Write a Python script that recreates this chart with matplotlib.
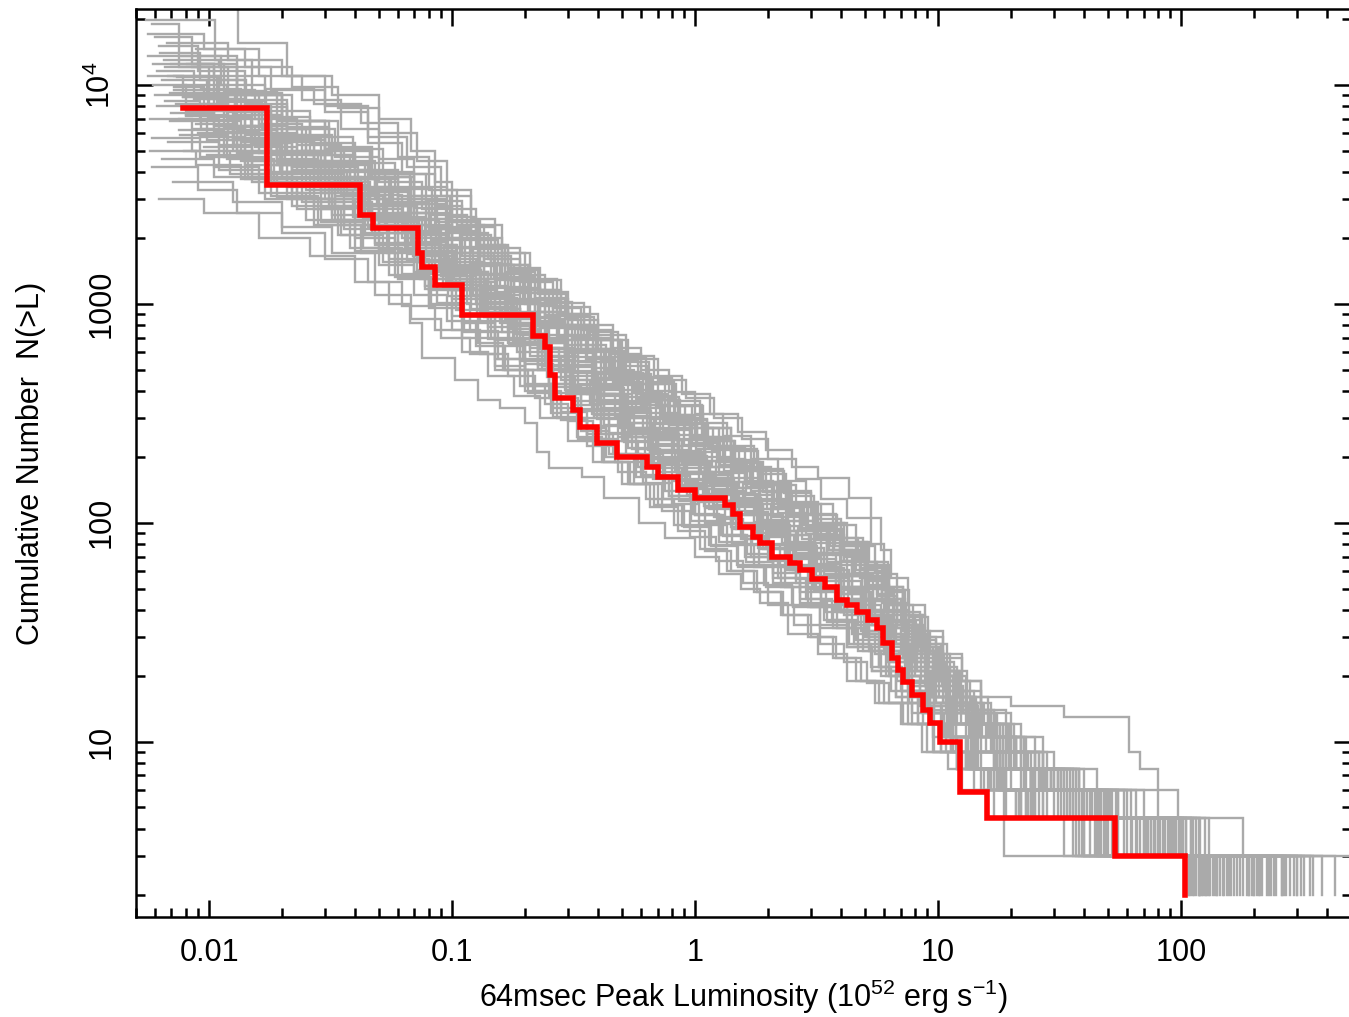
import matplotlib
matplotlib.use("Agg")
import matplotlib.pyplot as plt
from matplotlib.ticker import FixedLocator, FixedFormatter, LogLocator, NullFormatter

plt.rcParams['font.family'] = ['Liberation Sans', 'DejaVu Sans']
plt.rcParams['mathtext.fontset'] = 'custom'
plt.rcParams['mathtext.rm'] = 'Liberation Sans'
plt.rcParams['mathtext.default'] = 'regular'

# observed cumulative distribution (red), corners of the staircase: (L, N(>L))
obs_L = [0.0078, 0.0173, 0.0417, 0.0472, 0.0723, 0.0751, 0.085, 0.110, 0.215, 0.241,
         0.253, 0.265, 0.314, 0.336, 0.395, 0.477, 0.634, 0.704, 0.850, 1.0,
         1.33, 1.43, 1.53, 1.73, 1.85, 2.07, 2.46, 2.70, 3.03, 3.43,
         3.84, 4.22, 4.64, 5.15, 5.61, 5.94, 6.47, 6.85, 7.18, 7.82,
         8.68, 9.27, 10.2, 12.3, 15.9, 53.5, 104.0]
obs_N = [7800, 3500, 2550, 2220, 1710, 1470, 1220, 890, 715, 636,
         473, 372, 328, 274, 231, 200, 180, 162, 141, 130,
         121, 109, 96, 86, 81, 70, 65.5, 61, 55, 51,
         44.4, 42, 39, 36, 33, 28.2, 24.1, 21.3, 18.7, 16.3,
         14, 12.2, 10, 5.9, 4.5, 3, 2]

# simulated realisations (grey), each a list of staircase corners (L, N)
c01 = [(0.0085, 9000), (0.013, 6200), (0.019, 4600), (0.028, 3500), (0.045, 2600), (0.065, 1900), (0.09, 1450), (0.13, 1050), (0.17, 850), (0.22, 660), (0.29, 520), (0.38, 420), (0.5, 330), (0.65, 260), (0.85, 205), (1.1, 165), (1.4, 135), (1.8, 108), (2.3, 88), (3.0, 68), (3.8, 54), (4.8, 42), (5.8, 33), (7.0, 25), (8.5, 19), (10.5, 15), (13, 12), (17, 9), (23, 7.5), (32, 6), (45, 4.5), (85, 3), (160, 2)]
c02 = [(0.0062, 15000), (0.009, 11500), (0.014, 8500), (0.021, 6300), (0.033, 4700), (0.05, 3600), (0.075, 2700), (0.1, 2100), (0.14, 1600), (0.19, 1250), (0.26, 960), (0.34, 760), (0.45, 590), (0.6, 460), (0.8, 360), (1.05, 285), (1.35, 225), (1.75, 175), (2.3, 140), (3.0, 110), (3.8, 85), (4.7, 66), (5.6, 50), (6.6, 38), (8.0, 29), (9.8, 22), (12, 17), (15, 13.5), (20, 10.5), (27, 7.5), (38, 6), (60, 4.5), (105, 3), (260, 2)]
c03 = [(0.0095, 5200), (0.015, 3900), (0.024, 2900), (0.036, 2200), (0.055, 1600), (0.08, 1150), (0.11, 820), (0.15, 640), (0.2, 500), (0.26, 390), (0.34, 300), (0.44, 235), (0.58, 180), (0.75, 140), (0.98, 110), (1.25, 88), (1.6, 70), (2.1, 56), (2.7, 45), (3.4, 36), (4.3, 28), (5.3, 22), (6.4, 17), (7.8, 13.5), (9.5, 10.5), (12, 7.5), (16, 6), (24, 4.5), (50, 3), (130, 2)]
c04 = [(0.0058, 19000), (0.0075, 12000), (0.012, 8000), (0.018, 5800), (0.03, 4100), (0.048, 3000), (0.07, 2300), (0.1, 1700), (0.135, 1300), (0.18, 1000), (0.24, 800), (0.32, 620), (0.42, 490), (0.55, 390), (0.72, 310), (0.95, 245), (1.25, 195), (1.6, 155), (2.1, 122), (2.7, 95), (3.5, 75), (4.4, 58), (5.4, 45), (6.5, 34), (7.8, 26), (9.5, 20), (11.5, 15), (14.5, 12), (19, 9), (26, 7.5), (35, 6), (50, 4.5), (95, 3), (200, 2)]
c05 = [(0.0075, 7000), (0.011, 5300), (0.017, 4000), (0.026, 3000), (0.04, 2300), (0.06, 1750), (0.085, 1300), (0.12, 950), (0.16, 740), (0.21, 580), (0.28, 450), (0.37, 350), (0.49, 270), (0.64, 215), (0.83, 170), (1.08, 135), (1.4, 108), (1.8, 86), (2.35, 68), (3.0, 54), (3.8, 43), (4.7, 34), (5.7, 26), (6.9, 20), (8.4, 15), (10.3, 12), (13, 9), (17, 7.5), (22, 6), (32, 4.5), (70, 3), (120, 2)]
c06 = [(0.007, 12500), (0.0105, 9000), (0.016, 6600), (0.024, 5000), (0.036, 3800), (0.055, 2900), (0.08, 2200), (0.11, 1650), (0.15, 1280), (0.2, 1000), (0.27, 780), (0.36, 610), (0.48, 480), (0.63, 380), (0.82, 300), (1.07, 240), (1.4, 190), (1.85, 150), (2.4, 120), (3.1, 98), (4.0, 80), (5.0, 62), (5.9, 45), (6.8, 33), (8.0, 25), (9.7, 19), (12, 14), (15, 10.5), (20, 7.5), (29, 6), (42, 4.5), (80, 3), (140, 2)]
c07 = [(0.0105, 4200), (0.016, 3200), (0.025, 2400), (0.038, 1800), (0.055, 1350), (0.08, 960), (0.11, 700), (0.15, 520), (0.2, 400), (0.27, 300), (0.36, 225), (0.48, 170), (0.63, 128), (0.82, 98), (1.05, 76), (1.35, 60), (1.75, 48), (2.25, 38), (2.9, 30), (3.7, 24), (4.6, 19), (5.7, 15), (7.0, 12), (8.6, 9), (11, 7.5), (14, 6), (19, 4.5), (40, 3), (110, 2)]
c08 = [(0.0068, 11000), (0.01, 8000), (0.015, 6000), (0.023, 4400), (0.035, 3300), (0.053, 2500), (0.077, 1850), (0.105, 1400), (0.14, 1100), (0.19, 860), (0.25, 680), (0.33, 540), (0.43, 425), (0.57, 335), (0.74, 265), (0.96, 210), (1.25, 168), (1.62, 134), (2.1, 106), (2.75, 84), (3.5, 66), (4.4, 51), (5.4, 39), (6.5, 30), (7.9, 23), (9.6, 17), (11.8, 13.5), (14.8, 10.5), (19, 7.5), (26, 6), (40, 4.5), (75, 3), (300, 2)]
c09 = [(0.008, 8200), (0.012, 6000), (0.019, 4400), (0.029, 3300), (0.044, 2450), (0.066, 1850), (0.093, 1380), (0.13, 1020), (0.175, 790), (0.23, 620), (0.3, 490), (0.4, 385), (0.52, 300), (0.68, 238), (0.88, 188), (1.15, 150), (1.48, 120), (1.9, 96), (2.45, 76), (3.15, 60), (4.0, 47), (5.0, 37), (6.1, 28), (7.4, 21), (9.0, 16), (11, 12), (14, 9), (18, 7.5), (25, 6), (37, 4.5), (65, 3), (180, 2)]
c10 = [(0.0056, 13500), (0.013, 9300), (0.019, 6800), (0.03, 5100), (0.047, 3800), (0.07, 2750), (0.1, 2000), (0.135, 1500), (0.18, 1150), (0.24, 890), (0.31, 700), (0.41, 550), (0.54, 430), (0.7, 340), (0.91, 270), (1.18, 215), (1.52, 172), (1.95, 138), (2.5, 110), (3.2, 88), (4.1, 70), (5.1, 55), (6.1, 42), (7.2, 32), (8.6, 24), (10.4, 18), (12.7, 13.5), (16, 10.5), (21, 9), (28, 7.5), (40, 6), (62, 4.5), (110, 3), (600, 2)]
c11 = [(0.009, 6000), (0.0135, 4500), (0.021, 3400), (0.032, 2550), (0.048, 1900), (0.072, 1420), (0.1, 1050), (0.14, 780), (0.185, 600), (0.245, 465), (0.32, 360), (0.42, 280), (0.55, 218), (0.72, 170), (0.93, 134), (1.2, 106), (1.55, 84), (2.0, 67), (2.6, 53), (3.3, 42), (4.2, 33), (5.2, 26), (6.3, 20), (7.6, 15), (9.3, 12), (11.5, 9), (15, 7.5), (20, 6), (28, 4.5), (60, 3), (125, 2)]
c12 = [(0.0072, 9800), (0.0095, 7200), (0.015, 5400), (0.022, 4200), (0.034, 3200), (0.05, 2350), (0.072, 1750), (0.1, 1300), (0.14, 1000), (0.185, 790), (0.245, 620), (0.32, 490), (0.42, 385), (0.55, 305), (0.72, 242), (0.94, 192), (1.22, 153), (1.58, 122), (2.05, 97), (2.65, 77), (3.4, 61), (4.3, 48), (5.3, 37), (6.4, 28), (7.7, 21), (9.4, 16), (11.5, 12), (14.5, 9), (19, 7.5), (27, 6), (38, 4.5), (90, 3), (150, 2)]
c13 = [(0.0055, 19800), (0.0106, 13000), (0.015, 9000), (0.022, 6800), (0.034, 5100), (0.052, 3900), (0.078, 2950), (0.11, 2250), (0.15, 1700), (0.2, 1300), (0.27, 1010), (0.35, 800), (0.46, 630), (0.6, 500), (0.78, 395), (1.0, 315), (1.3, 250), (1.7, 195), (2.2, 155), (2.85, 122), (3.7, 98), (4.6, 78), (5.5, 60), (6.3, 45), (7.3, 34), (8.7, 26), (10.5, 20), (13, 15), (16.5, 12), (22, 9), (30, 7.5), (45, 6), (70, 4.5), (120, 3), (230, 2)]
c14 = [(0.0098, 4800), (0.015, 3600), (0.023, 2700), (0.035, 2050), (0.052, 1550), (0.077, 1170), (0.11, 880), (0.15, 680), (0.2, 530), (0.26, 415), (0.34, 325), (0.44, 258), (0.57, 205), (0.74, 163), (0.95, 130), (1.23, 104), (1.58, 84), (2.02, 68), (2.6, 55), (3.3, 44), (4.2, 35), (5.2, 27), (6.3, 21), (7.6, 16), (9.2, 12), (11.3, 9), (14.5, 7.5), (19, 6), (26, 4.5), (48, 3), (115, 2)]
c15 = [(0.0064, 10500), (0.0098, 8600), (0.014, 6500), (0.021, 4900), (0.032, 3700), (0.049, 2800), (0.072, 2100), (0.1, 1550), (0.135, 1180), (0.18, 920), (0.24, 720), (0.31, 570), (0.41, 450), (0.53, 355), (0.69, 285), (0.9, 226), (1.17, 180), (1.52, 144), (1.97, 115), (2.55, 92), (3.3, 73), (4.2, 57), (5.2, 44), (6.2, 34), (7.4, 26), (8.9, 20), (10.8, 15), (13.3, 12), (17, 9), (23, 7.5), (31, 6), (47, 4.5), (100, 3), (190, 2)]
c16 = [(0.0078, 8800), (0.0115, 6400), (0.018, 4800), (0.027, 3600), (0.041, 2700), (0.062, 2000), (0.088, 1480), (0.122, 1100), (0.165, 850), (0.22, 660), (0.29, 515), (0.38, 405), (0.5, 318), (0.65, 250), (0.85, 198), (1.1, 158), (1.42, 126), (1.83, 101), (2.37, 80), (3.05, 63), (3.9, 50), (4.9, 39), (6.0, 30), (7.3, 23), (8.9, 17), (10.9, 13.5), (13.5, 10.5), (17.5, 7.5), (24, 6), (34, 4.5), (110, 3), (430, 2)]
c17 = [(0.006, 16500), (0.0085, 12500), (0.013, 9200), (0.02, 6800), (0.03, 5100), (0.046, 3800), (0.068, 2850), (0.095, 2150), (0.13, 1650), (0.175, 1270), (0.23, 980), (0.3, 770), (0.39, 605), (0.51, 475), (0.66, 375), (0.86, 298), (1.12, 237), (1.45, 188), (1.88, 150), (2.43, 119), (3.15, 94), (4.05, 74), (5.1, 57), (6.2, 43), (7.4, 33), (8.8, 25), (10.6, 19), (13, 14), (16.5, 10.5), (22, 7.5), (30, 6), (55, 4.5), (100, 3), (270, 2)]
c18 = [(0.0088, 6600), (0.013, 5000), (0.02, 3750), (0.031, 2800), (0.047, 2100), (0.07, 1570), (0.098, 1160), (0.135, 870), (0.18, 670), (0.24, 520), (0.315, 405), (0.41, 315), (0.54, 245), (0.7, 192), (0.91, 152), (1.18, 120), (1.52, 96), (1.96, 77), (2.53, 61), (3.25, 48), (4.1, 38), (5.1, 30), (6.2, 23), (7.5, 17), (9.1, 13.5), (11.2, 10.5), (14, 7.5), (18.5, 6), (25, 4.5), (55, 3), (140, 2)]
c19 = [(0.0066, 12000), (0.01, 9500), (0.0155, 7000), (0.023, 5300), (0.035, 4000), (0.053, 3000), (0.078, 2250), (0.108, 1700), (0.145, 1300), (0.195, 1010), (0.26, 790), (0.34, 620), (0.45, 490), (0.59, 385), (0.77, 305), (1.0, 243), (1.3, 193), (1.68, 154), (2.17, 123), (2.8, 98), (3.6, 78), (4.6, 61), (5.6, 47), (6.6, 36), (7.9, 27), (9.5, 21), (11.6, 16), (14.3, 12), (18.5, 9), (25, 7.5), (38, 6), (80, 4.5), (130, 3), (210, 2)]
c20 = [(0.0082, 7600), (0.0125, 5700), (0.019, 4300), (0.029, 3200), (0.043, 2400), (0.064, 1800), (0.09, 1340), (0.125, 1000), (0.17, 770), (0.225, 600), (0.295, 470), (0.385, 365), (0.5, 285), (0.66, 225), (0.86, 178), (1.12, 142), (1.45, 113), (1.87, 90), (2.42, 71), (3.1, 57), (3.95, 45), (4.95, 35), (6.0, 27), (7.3, 20), (8.9, 15), (10.9, 12), (13.8, 9), (18, 7.5), (24, 6), (35, 4.5), (75, 3), (105, 2)]
c21 = [(0.0072, 11000), (0.011, 8400), (0.017, 6300), (0.026, 4800), (0.04, 3700), (0.06, 2850), (0.085, 2200), (0.12, 1700), (0.16, 1330), (0.22, 1050), (0.3, 840), (0.4, 680), (0.53, 560), (0.7, 450), (0.92, 370), (1.2, 300), (1.56, 240), (2.0, 195), (2.6, 158), (3.3, 128), (4.2, 105), (5.3, 80), (6.0, 58), (6.8, 42), (7.9, 32), (9.3, 25), (11.2, 19), (13.5, 14), (17, 10.5), (23, 7.5), (33, 6), (50, 4.5), (115, 3), (320, 2)]
c22 = [(0.0092, 5800), (0.014, 4300), (0.022, 3200), (0.033, 2400), (0.05, 1780), (0.074, 1300), (0.104, 940), (0.14, 690), (0.19, 500), (0.25, 370), (0.33, 270), (0.43, 200), (0.56, 150), (0.73, 113), (0.95, 86), (1.22, 67), (1.57, 53), (2.0, 42), (2.55, 34), (3.25, 28), (4.1, 23), (5.1, 18.5), (6.3, 15), (7.8, 12), (9.6, 9), (12, 7.5), (15.5, 6), (21, 4.5), (45, 3), (108, 2)]
c23 = [(0.006, 9000), (0.02, 5000), (0.03, 3700), (0.045, 2800), (0.068, 2050), (0.095, 1500), (0.13, 1120), (0.175, 860), (0.23, 670), (0.3, 525), (0.39, 410), (0.51, 322), (0.66, 255), (0.86, 202), (1.12, 160), (1.45, 127), (1.88, 101), (2.43, 80), (3.13, 63), (4.0, 50), (5.05, 39), (6.2, 30), (7.5, 22), (9.1, 16), (11.2, 12), (14.2, 9), (18.5, 7.5), (24, 6), (36, 4.5), (58, 3), (240, 2)]
c24 = [(0.0078, 10000), (0.0118, 7500), (0.018, 5600), (0.027, 4200), (0.041, 3150), (0.062, 2400), (0.088, 1800), (0.122, 1360), (0.165, 1050), (0.22, 820), (0.29, 645), (0.38, 510), (0.5, 402), (0.65, 318), (0.85, 252), (1.1, 200), (1.43, 160), (1.85, 128), (2.4, 102), (3.1, 81), (3.95, 64), (5.0, 50), (6.1, 39), (7.3, 29), (8.8, 22), (10.6, 17), (13, 13.5), (16.3, 10.5), (21, 7.5), (29, 6), (44, 4.5), (95, 3), (170, 2)]
c25 = [(0.0062, 3000), (0.0095, 2600), (0.016, 2000), (0.026, 1650), (0.04, 1250), (0.055, 1000), (0.067, 820), (0.075, 565), (0.103, 450), (0.128, 365), (0.157, 335), (0.2, 285), (0.223, 211), (0.25, 178), (0.342, 162), (0.42, 130), (0.59, 100), (0.75, 85), (1.0, 70), (1.25, 58), (1.55, 50), (1.85, 43), (2.4, 31), (3.2, 25), (4.2, 19), (5.5, 15), (7.2, 12), (9.0, 9), (12, 7.5), (15, 6), (18.6, 3), (108, 2)]
c26 = [(0.0058, 4200), (0.009, 3300), (0.013, 2600), (0.02, 2100), (0.03, 1600), (0.045, 1250), (0.062, 980), (0.085, 760), (0.11, 600), (0.14, 470), (0.18, 380), (0.23, 300), (0.3, 235), (0.38, 190), (0.5, 150), (0.65, 118), (0.85, 92), (1.1, 74), (1.4, 60), (1.8, 48), (2.3, 38), (3.0, 30), (3.8, 24), (4.8, 19), (6.0, 15), (7.5, 12), (9.5, 9), (12.5, 6), (17, 4.5), (33, 3), (112, 2)]
c27 = [(0.0068, 5500), (0.011, 4100), (0.018, 3100), (0.028, 2300), (0.042, 1700), (0.06, 1300), (0.08, 1000), (0.1, 760), (0.13, 590), (0.17, 470), (0.22, 370), (0.28, 295), (0.36, 235), (0.47, 190), (0.61, 152), (0.8, 122), (1.04, 98), (1.35, 79), (1.75, 63), (2.25, 51), (2.9, 41), (3.7, 33), (4.7, 26), (5.8, 20), (7.1, 15), (8.7, 12), (10.8, 9), (13.5, 7.5), (17, 6), (24, 4.5), (42, 3), (118, 2)]
c28 = [(0.0057, 7000), (0.0085, 5000), (0.014, 3700), (0.022, 2800), (0.034, 2050), (0.05, 1500), (0.07, 1100), (0.095, 830), (0.125, 640), (0.165, 500), (0.215, 400), (0.28, 320), (0.36, 255), (0.46, 205), (0.6, 165), (0.78, 133), (1.0, 108), (1.3, 87), (1.7, 70), (2.2, 56), (2.85, 45), (3.65, 36), (4.6, 29), (5.7, 22), (7.0, 17), (8.6, 13.5), (10.6, 10.5), (13.3, 7.5), (17.5, 6), (25, 4.5), (52, 3), (122, 2)]
c29 = [(0.0075, 6200), (0.0115, 4700), (0.018, 3500), (0.027, 2700), (0.04, 2000), (0.058, 1550), (0.08, 1200), (0.11, 900), (0.145, 700), (0.19, 550), (0.25, 430), (0.32, 345), (0.41, 275), (0.53, 220), (0.68, 178), (0.88, 143), (1.14, 116), (1.47, 94), (1.9, 76), (2.45, 61), (3.15, 49), (4.0, 39), (5.0, 31), (6.2, 24), (7.6, 18.5), (9.3, 14), (11.4, 10.5), (14.3, 7.5), (18.8, 6), (27, 4.5), (62, 3), (135, 2)]
c30 = [(0.0061, 8000), (0.0093, 6300), (0.014, 4900), (0.022, 3700), (0.033, 2800), (0.05, 2100), (0.073, 1550), (0.1, 1150), (0.135, 870), (0.18, 670), (0.235, 520), (0.305, 410), (0.395, 325), (0.51, 260), (0.66, 208), (0.86, 167), (1.12, 134), (1.45, 108), (1.88, 87), (2.42, 70), (3.12, 56), (4.0, 44), (5.0, 34), (6.1, 26), (7.4, 20), (9.0, 15), (11, 12), (13.8, 9), (18, 7.5), (24, 6), (36, 4.5), (68, 3), (155, 2)]
c31 = [(0.0056, 17000), (0.0095, 14500), (0.016, 11000), (0.024, 8500), (0.035, 6300), (0.05, 4600), (0.07, 3400), (0.095, 2500), (0.125, 1850), (0.165, 1400), (0.22, 1060), (0.29, 800), (0.38, 610), (0.5, 470), (0.65, 365), (0.85, 285), (1.1, 225), (1.43, 178), (1.85, 140), (2.4, 110), (3.1, 86), (4.0, 67), (5.0, 51), (6.1, 39), (7.4, 29), (9.0, 22), (11, 16), (14, 12), (18, 9), (24, 7.5), (33, 6), (52, 4.5), (92, 3), (280, 2)]
c32 = [(0.0065, 13000), (0.011, 12000), (0.018, 9500), (0.03, 7500), (0.045, 5400), (0.062, 3900), (0.085, 2800), (0.11, 2050), (0.145, 1500), (0.19, 1120), (0.25, 850), (0.33, 650), (0.43, 500), (0.56, 390), (0.73, 305), (0.95, 240), (1.23, 190), (1.6, 150), (2.07, 118), (2.7, 93), (3.5, 73), (4.5, 57), (5.6, 44), (6.8, 34), (8.2, 26), (10, 20), (12.3, 15), (15.5, 12), (20, 9), (27, 7.5), (37, 6), (58, 4.5), (102, 3), (215, 2)]
c33 = [(0.0085, 12000), (0.013, 9000), (0.02, 6800), (0.031, 5200), (0.047, 4000), (0.07, 3100), (0.098, 2400), (0.13, 1850), (0.17, 1450), (0.23, 1130), (0.3, 900), (0.4, 720), (0.52, 580), (0.68, 470), (0.88, 385), (1.15, 315), (1.5, 260), (1.95, 215), (2.5, 180), (3.2, 160), (4.3, 130), (5.3, 105), (5.8, 75), (6.4, 56), (7.5, 42), (8.8, 32), (10.5, 25), (12.5, 19), (15, 14), (19, 10.5), (25, 7.5), (36, 6), (55, 4.5), (105, 3), (350, 2)]
c34 = [(0.0072, 9500), (0.0105, 7600), (0.016, 5900), (0.025, 4500), (0.038, 3400), (0.057, 2600), (0.082, 1950), (0.113, 1480), (0.153, 1130), (0.205, 870), (0.27, 680), (0.355, 540), (0.46, 430), (0.6, 345), (0.78, 278), (1.02, 225), (1.33, 182), (1.73, 148), (2.25, 120), (2.9, 97), (3.75, 78), (4.8, 62), (6.0, 49), (7.3, 38), (8.8, 30), (10.5, 24), (12.5, 19), (15, 16), (20, 14.5), (33, 13), (61, 9), (68, 7.5), (80, 6), (97, 4.5), (180, 3), (300, 2)]
c35 = [(0.0059, 10000), (0.008, 7200), (0.0125, 5000), (0.02, 4000), (0.037, 3100), (0.053, 2200), (0.07, 1650), (0.1, 1250), (0.15, 950), (0.19, 720), (0.25, 580), (0.33, 430), (0.42, 330), (0.56, 270), (0.7, 215), (0.93, 170), (1.2, 140), (1.6, 112), (2.0, 92), (2.6, 73), (3.4, 58), (4.4, 45), (5.5, 36), (6.7, 28), (8.2, 21), (10.1, 16), (12.4, 12), (15.7, 9), (20.5, 7.5), (28, 6), (43, 4.5), (78, 3), (128, 2)]
c36 = [(0.0069, 6800), (0.0098, 5600), (0.015, 4500), (0.025, 3300), (0.039, 2500), (0.058, 1900), (0.083, 1450), (0.118, 1080), (0.158, 820), (0.21, 630), (0.275, 490), (0.36, 385), (0.47, 305), (0.61, 245), (0.8, 195), (1.04, 157), (1.35, 126), (1.75, 101), (2.27, 81), (2.95, 64), (3.8, 51), (4.8, 40), (5.9, 31), (7.2, 24), (8.8, 18), (10.8, 13.5), (13.4, 10.5), (17, 7.5), (22.5, 6), (30, 4.5), (72, 3), (165, 2)]
c37 = [(0.0057, 5000), (0.0088, 4300), (0.0135, 3700), (0.021, 3000), (0.032, 2400), (0.048, 1850), (0.07, 1400), (0.096, 1080), (0.13, 830), (0.172, 645), (0.225, 505), (0.295, 395), (0.385, 310), (0.5, 245), (0.65, 195), (0.84, 156), (1.09, 125), (1.41, 100), (1.83, 80), (2.37, 64), (3.07, 51), (3.95, 40), (5.0, 31), (6.2, 24), (7.6, 18), (9.3, 13.5), (11.5, 10.5), (14.5, 7.5), (19, 6), (27, 4.5), (47, 3), (190, 2)]
c38 = [(0.0063, 14000), (0.0092, 10500), (0.014, 7900), (0.021, 5900), (0.032, 4500), (0.048, 3400), (0.07, 2600), (0.097, 1980), (0.13, 1520), (0.175, 1180), (0.23, 920), (0.3, 720), (0.39, 570), (0.51, 455), (0.66, 365), (0.86, 293), (1.12, 236), (1.46, 190), (1.9, 154), (2.47, 124), (3.2, 100), (4.1, 80), (5.1, 63), (6.1, 48), (7.2, 36), (8.5, 27), (10.1, 21), (12.2, 16), (15, 12), (19.5, 9), (26, 7.5), (36, 6), (54, 4.5), (125, 3), (245, 2)]
c39 = [(0.008, 7300), (0.012, 5600), (0.018, 4300), (0.027, 3300), (0.041, 2500), (0.06, 1850), (0.085, 1350), (0.115, 1000), (0.15, 740), (0.195, 560), (0.25, 430), (0.32, 330), (0.41, 255), (0.52, 200), (0.67, 158), (0.86, 125), (1.1, 100), (1.42, 80), (1.83, 64), (2.35, 51), (3.0, 41), (3.85, 33), (4.9, 26), (6.1, 20), (7.5, 15), (9.2, 12), (11.3, 9), (14, 7.5), (17.5, 6), (22, 4.5), (39, 3), (145, 2)]
c40 = [(0.0087, 8600), (0.0128, 6500), (0.019, 5000), (0.028, 3800), (0.042, 2850), (0.063, 2150), (0.09, 1600), (0.125, 1200), (0.168, 910), (0.222, 700), (0.29, 545), (0.377, 428), (0.49, 338), (0.635, 268), (0.82, 213), (1.06, 170), (1.37, 136), (1.77, 109), (2.28, 88), (2.95, 71), (3.8, 57), (4.85, 45), (6.0, 35), (7.3, 27), (8.9, 20), (10.8, 15), (13.2, 12), (16.5, 9), (21, 7.5), (28, 6), (41, 4.5), (88, 3), (225, 2)]
c41 = [(0.0064, 4600), (0.0105, 3800), (0.017, 3000), (0.027, 2300), (0.04, 1750), (0.058, 1320), (0.082, 990), (0.112, 740), (0.15, 560), (0.2, 430), (0.26, 335), (0.34, 262), (0.44, 205), (0.57, 162), (0.74, 128), (0.96, 102), (1.25, 82), (1.62, 66), (2.1, 53), (2.7, 43), (3.5, 35), (4.5, 28), (5.7, 22), (7.1, 17), (8.8, 13.5), (10.9, 10.5), (13.6, 7.5), (17.5, 6), (23, 4.5), (44, 3), (138, 2)]
c42 = [(0.0076, 5900), (0.0118, 4600), (0.0185, 3600), (0.029, 2750), (0.044, 2100), (0.065, 1580), (0.092, 1180), (0.127, 880), (0.17, 660), (0.225, 500), (0.295, 385), (0.385, 300), (0.5, 236), (0.65, 187), (0.84, 149), (1.09, 119), (1.41, 96), (1.82, 77), (2.35, 62), (3.03, 50), (3.9, 40), (4.95, 32), (6.15, 25), (7.55, 19), (9.2, 14.5), (11.2, 10.5), (14, 7.5), (18, 6), (24.5, 4.5), (54, 3), (118, 2)]
c43 = [(0.0055, 30000), (0.0131, 15500), (0.021, 11000), (0.03, 8000), (0.045, 5800), (0.065, 4200), (0.09, 3100), (0.12, 2300), (0.16, 1700), (0.21, 1280), (0.28, 970), (0.37, 740), (0.48, 570), (0.63, 440), (0.82, 345), (1.07, 270), (1.4, 212), (1.82, 167), (2.37, 132), (3.08, 104), (4.0, 82), (5.1, 64), (6.3, 49), (7.6, 37), (9.1, 28), (10.9, 21), (13.1, 16), (16, 12), (20.5, 9), (27, 7.5), (38, 6), (65, 4.5), (118, 3), (265, 2)]
c44 = [(0.0067, 15500), (0.012, 13000), (0.02, 11000), (0.032, 9000), (0.05, 7000), (0.068, 5000), (0.085, 3600), (0.1, 2700), (0.125, 2000), (0.16, 1500), (0.21, 1150), (0.28, 880), (0.37, 680), (0.49, 520), (0.64, 400), (0.83, 310), (1.08, 245), (1.4, 192), (1.82, 150), (2.36, 118), (3.06, 92), (3.95, 72), (5.0, 56), (6.1, 42), (7.4, 31), (8.9, 23), (10.8, 17), (13.2, 13.5), (16.5, 10.5), (21, 7.5), (29, 6), (46, 4.5), (86, 3), (310, 2)]
c45 = [(0.0059, 12500), (0.0105, 11000), (0.017, 9600), (0.027, 8200), (0.042, 6700), (0.06, 4700), (0.08, 3300), (0.105, 2300), (0.135, 1600), (0.17, 1150), (0.22, 830), (0.29, 610), (0.38, 460), (0.5, 350), (0.65, 270), (0.85, 210), (1.1, 165), (1.43, 130), (1.86, 103), (2.4, 82), (3.1, 65), (4.0, 51), (5.05, 40), (6.2, 31), (7.5, 24), (9.1, 18), (11.1, 13.5), (13.7, 10.5), (17.5, 7.5), (23, 6), (33, 4.5), (66, 3), (200, 2)]
c46 = [(0.0071, 3600), (0.0125, 2900), (0.02, 2250), (0.032, 1700), (0.048, 1100), (0.068, 850), (0.09, 700), (0.118, 590), (0.15, 500), (0.19, 420), (0.24, 350), (0.3, 290), (0.38, 240), (0.48, 198), (0.61, 162), (0.78, 133), (1.0, 108), (1.28, 88), (1.64, 72), (2.1, 59), (2.7, 48), (3.45, 39), (4.4, 31), (5.5, 25), (6.8, 19), (8.4, 14.5), (10.4, 10.5), (13, 7.5), (16.5, 6), (22, 4.5), (37, 3), (123, 2)]
c47 = [(0.0066, 8400), (0.0092, 6800), (0.0135, 5500), (0.02, 4500), (0.03, 3600), (0.046, 2800), (0.07, 2050), (0.095, 1500), (0.12, 1150), (0.15, 900), (0.19, 700), (0.245, 545), (0.315, 425), (0.41, 335), (0.53, 265), (0.69, 212), (0.9, 170), (1.17, 137), (1.52, 110), (1.97, 88), (2.55, 70), (3.3, 56), (4.25, 44), (5.35, 34), (6.6, 26), (8.0, 20), (9.8, 15), (12, 12), (15, 9), (19.5, 7.5), (26, 6), (39, 4.5), (82, 3), (175, 2)]
c48 = [(0.0074, 10800), (0.0108, 8300), (0.0165, 6300), (0.025, 4800), (0.038, 3700), (0.056, 2850), (0.08, 2200), (0.11, 1700), (0.148, 1310), (0.197, 1010), (0.26, 780), (0.34, 605), (0.44, 470), (0.575, 368), (0.75, 290), (0.97, 230), (1.26, 183), (1.63, 146), (2.12, 117), (2.75, 94), (3.55, 75), (4.55, 59), (5.65, 46), (6.8, 35), (8.1, 26), (9.7, 20), (11.7, 15), (14.3, 12), (18, 9), (23.5, 7.5), (32, 6), (49, 4.5), (98, 3), (205, 2)]
c49 = [(0.0083, 6900), (0.0126, 5300), (0.0195, 4000), (0.03, 3000), (0.045, 2250), (0.066, 1680), (0.094, 1250), (0.13, 920), (0.172, 690), (0.225, 525), (0.29, 405), (0.375, 315), (0.48, 247), (0.62, 195), (0.8, 155), (1.03, 124), (1.33, 99), (1.72, 79), (2.23, 63), (2.9, 50), (3.75, 40), (4.8, 32), (6.0, 25), (7.4, 19), (9.0, 14.5), (11, 10.5), (13.8, 7.5), (17.8, 6), (23.5, 4.5), (46, 3), (132, 2)]
c50 = [(0.0096, 7800), (0.014, 5900), (0.0205, 4500), (0.031, 3400), (0.046, 2550), (0.068, 1920), (0.096, 1430), (0.132, 1070), (0.176, 815), (0.232, 630), (0.302, 492), (0.39, 387), (0.505, 306), (0.655, 243), (0.85, 194), (1.1, 155), (1.42, 124), (1.84, 99), (2.38, 79), (3.07, 63), (3.95, 50), (5.0, 39), (6.15, 30), (7.5, 23), (9.1, 17), (11.1, 12), (13.7, 9), (17.3, 7.5), (22.5, 6), (31, 4.5), (63, 3), (158, 2)]
c51 = [(0.0061, 11500), (0.0087, 9200), (0.0128, 7300), (0.019, 5700), (0.029, 4400), (0.044, 3300), (0.066, 2450), (0.094, 1800), (0.128, 1350), (0.17, 1030), (0.225, 790), (0.295, 610), (0.385, 475), (0.5, 375), (0.65, 298), (0.84, 238), (1.09, 191), (1.41, 154), (1.83, 125), (2.37, 102), (3.07, 83), (3.97, 67), (5.0, 54), (6.1, 43), (7.2, 34), (8.4, 27), (9.9, 21), (11.7, 16), (14, 13.5), (17.2, 10.5), (22, 7.5), (30, 6), (47, 4.5), (112, 3), (380, 2)]
c52 = [(0.0058, 5700), (0.0092, 4700), (0.0145, 3800), (0.023, 3000), (0.036, 2300), (0.054, 1700), (0.077, 1200), (0.1, 880), (0.128, 660), (0.162, 500), (0.205, 390), (0.26, 305), (0.33, 240), (0.42, 190), (0.54, 150), (0.7, 120), (0.9, 96), (1.16, 78), (1.5, 63), (1.95, 51), (2.52, 41), (3.25, 33), (4.2, 27), (5.35, 21), (6.7, 16), (8.3, 12), (10.3, 9), (13, 7.5), (16.3, 6), (21, 4.5), (36, 3), (113, 2)]
c53 = [(0.007, 7400), (0.0105, 6100), (0.016, 4900), (0.024, 3900), (0.036, 3000), (0.054, 2300), (0.078, 1700), (0.108, 1260), (0.145, 950), (0.19, 730), (0.245, 570), (0.315, 450), (0.405, 357), (0.52, 285), (0.67, 228), (0.86, 183), (1.11, 147), (1.43, 118), (1.85, 94), (2.4, 75), (3.1, 60), (4.0, 47), (5.05, 37), (6.25, 28), (7.65, 21), (9.3, 16), (11.3, 12), (14, 9), (18, 7.5), (24, 6), (34, 4.5), (73, 3), (260, 2)]
c54 = [(0.0081, 12500), (0.0115, 9400), (0.0172, 7100), (0.026, 5400), (0.04, 4100), (0.06, 3100), (0.087, 2350), (0.12, 1780), (0.16, 1360), (0.212, 1040), (0.278, 800), (0.362, 620), (0.47, 485), (0.61, 380), (0.79, 300), (1.02, 238), (1.32, 190), (1.71, 151), (2.22, 120), (2.88, 95), (3.72, 75), (4.75, 59), (5.85, 45), (7.0, 34), (8.3, 26), (9.9, 19), (11.9, 14.5), (14.6, 10.5), (18.5, 7.5), (25, 6), (37, 4.5), (77, 3), (186, 2)]
c55 = [(0.0069, 9200), (0.0099, 7100), (0.0148, 5400), (0.022, 4100), (0.033, 3100), (0.05, 2350), (0.073, 1750), (0.102, 1300), (0.138, 970), (0.183, 730), (0.24, 555), (0.31, 425), (0.4, 328), (0.515, 255), (0.665, 200), (0.86, 158), (1.11, 125), (1.43, 99), (1.84, 79), (2.37, 63), (3.05, 50), (3.92, 39), (5.0, 30), (6.3, 23), (7.8, 17), (9.6, 12), (11.8, 9), (14.5, 7.5), (18, 6), (23, 4.5), (40, 3), (103, 2)]
c56 = [(0.0077, 13500), (0.0112, 10000), (0.017, 7600), (0.026, 5800), (0.039, 4400), (0.058, 3350), (0.083, 2550), (0.115, 1950), (0.155, 1500), (0.205, 1160), (0.27, 900), (0.35, 700), (0.45, 548), (0.58, 430), (0.75, 340), (0.97, 272), (1.25, 220), (1.6, 180), (2.05, 148), (2.6, 122), (3.3, 100), (4.2, 82), (5.2, 66), (6.2, 51), (7.2, 39), (8.4, 30), (9.8, 23), (11.6, 17), (14, 13.5), (17.5, 10.5), (22.5, 7.5), (31, 6), (48, 4.5), (93, 3), (195, 2)]
c57 = [(0.0088, 14500), (0.014, 12000), (0.022, 9800), (0.034, 7800), (0.05, 6000), (0.072, 4500), (0.095, 3300), (0.12, 2450), (0.15, 1800), (0.19, 1350), (0.24, 1020), (0.31, 780), (0.4, 600), (0.52, 465), (0.67, 362), (0.87, 283), (1.13, 222), (1.46, 175), (1.9, 138), (2.46, 108), (3.18, 85), (4.1, 67), (5.15, 52), (6.3, 40), (7.6, 30), (9.2, 22), (11.2, 16), (13.8, 12), (17.5, 9), (22.8, 7.5), (31, 6), (45, 4.5), (90, 3), (235, 2)]
c58 = [(0.0073, 8200), (0.0105, 6500), (0.0155, 5200), (0.023, 4100), (0.035, 3150), (0.052, 2420), (0.075, 1850), (0.104, 1400), (0.14, 1060), (0.185, 810), (0.242, 625), (0.315, 485), (0.41, 380), (0.53, 300), (0.685, 238), (0.885, 190), (1.14, 152), (1.47, 122), (1.9, 98), (2.46, 78), (3.18, 62), (4.1, 49), (5.2, 38), (6.4, 29), (7.8, 22), (9.5, 16), (11.6, 12), (14.4, 9), (18.4, 7.5), (24.5, 6), (35, 4.5), (70, 3), (148, 2)]
c59 = [(0.0086, 6300), (0.013, 4900), (0.02, 3800), (0.031, 2900), (0.047, 2200), (0.069, 1650), (0.097, 1220), (0.133, 900), (0.178, 670), (0.235, 505), (0.305, 385), (0.395, 298), (0.51, 233), (0.66, 184), (0.85, 146), (1.1, 117), (1.42, 94), (1.84, 76), (2.38, 61), (3.08, 49), (3.98, 39), (5.05, 31), (6.3, 24), (7.8, 18), (9.6, 13.5), (11.8, 10.5), (14.6, 7.5), (18.3, 6), (24, 4.5), (49, 3), (127, 2)]
c60 = [(0.0056, 11000), (0.0078, 8800), (0.0118, 7000), (0.018, 5500), (0.027, 4300), (0.04, 3350), (0.06, 2600), (0.086, 2000), (0.118, 1540), (0.158, 1190), (0.21, 920), (0.275, 715), (0.36, 558), (0.465, 437), (0.6, 343), (0.78, 272), (1.01, 217), (1.31, 173), (1.7, 139), (2.2, 111), (2.85, 89), (3.7, 71), (4.75, 56), (5.9, 43), (7.1, 33), (8.5, 25), (10.2, 19), (12.3, 14), (15.2, 10.5), (19.5, 7.5), (26.5, 6), (40, 4.5), (84, 3), (340, 2)]
c61 = [(0.0093, 9600), (0.0135, 7300), (0.02, 5600), (0.03, 4300), (0.045, 3250), (0.067, 2450), (0.095, 1820), (0.13, 1360), (0.175, 1020), (0.23, 775), (0.3, 595), (0.39, 460), (0.505, 360), (0.655, 283), (0.85, 225), (1.1, 180), (1.42, 144), (1.84, 115), (2.38, 92), (3.08, 73), (3.98, 58), (5.05, 45), (6.2, 35), (7.5, 27), (9.1, 20), (11, 15), (13.4, 12), (16.6, 9), (21, 7.5), (27.5, 6), (39, 4.5), (80, 3), (212, 2)]
c62 = [(0.0079, 5000), (0.0122, 3900), (0.019, 3050), (0.029, 2350), (0.043, 1800), (0.062, 1360), (0.087, 1010), (0.118, 750), (0.155, 560), (0.2, 420), (0.255, 318), (0.325, 245), (0.415, 190), (0.53, 150), (0.68, 120), (0.88, 97), (1.14, 79), (1.48, 64), (1.92, 52), (2.5, 42), (3.25, 34), (4.2, 27), (5.35, 21), (6.7, 16), (8.3, 12), (10.3, 9), (13, 7.5), (16.5, 6), (21.5, 4.5), (38, 3), (120, 2)]
c63 = [(0.0099, 10500), (0.0142, 8200), (0.021, 6400), (0.031, 5000), (0.046, 3900), (0.067, 3000), (0.094, 2350), (0.128, 1820), (0.17, 1420), (0.225, 1110), (0.295, 870), (0.385, 685), (0.5, 540), (0.645, 428), (0.835, 340), (1.08, 271), (1.4, 216), (1.8, 172), (2.32, 137), (3.0, 108), (3.85, 85), (4.9, 66), (6.0, 51), (7.2, 38), (8.6, 28), (10.3, 21), (12.4, 15), (15.2, 12), (19.2, 9), (25, 7.5), (34, 6), (51, 4.5), (101, 3), (290, 2)]
grey_runs = [c01, c02, c03, c04, c05, c06, c07, c08, c09, c10, c11, c12,
             c13, c14, c15, c16, c17, c18, c19, c20, c21, c22, c23, c24,
             c25, c26, c27, c28, c29, c30, c31, c32, c33, c34, c35, c36,
             c37, c38, c39, c40, c41, c42, c43, c44, c45, c46, c47, c48,
             c49, c50, c51, c52, c53, c54, c55, c56, c57, c58, c59, c60,
             c61, c62, c63]

x_ticks = [0.01, 0.1, 1, 10, 100]
x_labels = ['0.01', '0.1', '1', '10', '100']
y_ticks = [10, 100, 1000, 10000]
y_labels = ['10', '100', '1000', '10$^4$']

fig = plt.figure(figsize=(13.49, 10.17), dpi=100)
ax = fig.add_axes([0.1008, 0.0983, 0.9007, 0.8929])

for run in grey_runs:
    L = [p[0] for p in run]
    N = [p[1] for p in run]
    ax.plot(L, N, drawstyle='steps-post', color='#aaaaaa', lw=1.7, solid_joinstyle='miter')

ax.plot(obs_L, obs_N, drawstyle='steps-post', color='red', lw=4.0, solid_joinstyle='miter')

ax.set_xscale('log')
ax.set_yscale('log')
ax.set_xlim(0.005, 500)
ax.set_ylim(1.58, 22200)

ax.xaxis.set_major_locator(FixedLocator(x_ticks))
ax.xaxis.set_major_formatter(FixedFormatter(x_labels))
ax.yaxis.set_major_locator(FixedLocator(y_ticks))
ax.yaxis.set_major_formatter(FixedFormatter(y_labels))
ax.xaxis.set_minor_locator(LogLocator(base=10, subs=range(2, 10)))
ax.yaxis.set_minor_locator(LogLocator(base=10, subs=range(2, 10)))
ax.xaxis.set_minor_formatter(NullFormatter())
ax.yaxis.set_minor_formatter(NullFormatter())

ax.tick_params(which='both', direction='in', top=True, right=True, width=1.8, labelsize=22)
ax.tick_params(which='major', length=12)
ax.tick_params(which='minor', length=6.5)
ax.tick_params(axis='x', pad=15)
ax.tick_params(axis='y', pad=14)
for lab in ax.get_yticklabels():
    lab.set_rotation(90)
    lab.set_va('center')
for s in ax.spines.values():
    s.set_linewidth(1.8)

ax.set_xlabel('64msec Peak Luminosity (10$^{52}$ erg s$^{-1}$)', fontsize=22, labelpad=7)
ax.set_ylabel('Cumulative Number  N(>L)', fontsize=22, labelpad=28)

fig.savefig('out.png', dpi=100)
